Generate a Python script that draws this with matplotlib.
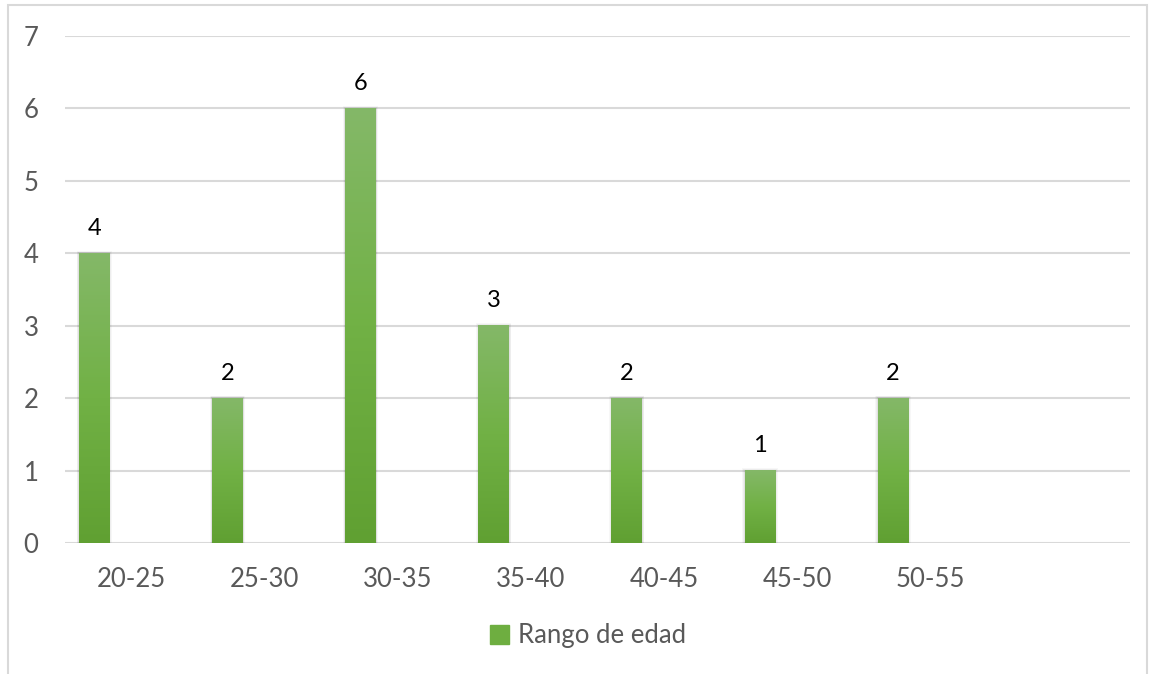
import numpy as np
import matplotlib.pyplot as plt
from matplotlib.patches import Rectangle
from matplotlib.colors import LinearSegmentedColormap

# datos
rangos = ["20-25", "25-30", "30-35", "35-40", "40-45", "45-50", "50-55", ""]
cantidad = [4, 2, 6, 3, 2, 1, 2]

plt.rcParams['font.family'] = ['Lato', 'DejaVu Sans']

fig = plt.figure(figsize=(11.52, 6.74), dpi=100)
ax = fig.add_axes([65/1152, 1 - 543/674, (1130-65)/1152, (543-36)/674])

verde = LinearSegmentedColormap.from_list("verde", ["#60a032", "#71b145", "#84b868"])
grad = np.linspace(0, 1, 256).reshape(-1, 1)

x = np.arange(len(rangos))
desp = -0.28
ancho = 0.23

for i, v in enumerate(cantidad):
    x0 = x[i] + desp - ancho / 2
    # sombra suave
    for k, a in enumerate([0.05, 0.04, 0.03]):
        ax.add_patch(Rectangle((x0 - 0.006 * (k + 1), 0), ancho + 0.012 * (k + 1), v + 0.012 * (k + 1),
                               color="black", alpha=a, lw=0, zorder=2))
    ax.imshow(grad, cmap=verde, aspect="auto", origin="lower",
              extent=(x0, x0 + ancho, 0, v), zorder=3)
    ax.text(x[i] + desp, v + 0.2, str(v), ha="center", va="bottom",
            fontsize=17, color="black")

ax.set_xlim(-0.5, len(rangos) - 0.5)
ax.set_ylim(0, 7)
ax.set_xticks(x)
ax.set_xticklabels(rangos)
ax.set_yticks(range(8))
ax.tick_params(length=0, labelsize=18.5, colors="#595959", pad=17)
ax.tick_params(axis="y", pad=19)
for s in ax.spines.values():
    s.set_visible(False)
ax.grid(axis="y", color="#d9d9d9", lw=1.5, zorder=1)
ax.set_axisbelow(True)

# leyenda
fig.legend(handles=[Rectangle((0, 0), 1, 1, color="#6eae40")], labels=["Rango de edad"],
           loc="center", bbox_to_anchor=(588/1152, 1 - 636/674), frameon=False,
           fontsize=18.5, handlelength=0.75, handleheight=0.75, handletextpad=0.35,
           labelcolor="#595959")

# marco del grafico
fig.patches.append(Rectangle((8/1152, -0.01), (1147-8)/1152, 1 - 5/674 + 0.01,
                             transform=fig.transFigure, fill=False,
                             edgecolor="#d9d9d9", lw=1.5))

fig.savefig("out.png", dpi=100)
